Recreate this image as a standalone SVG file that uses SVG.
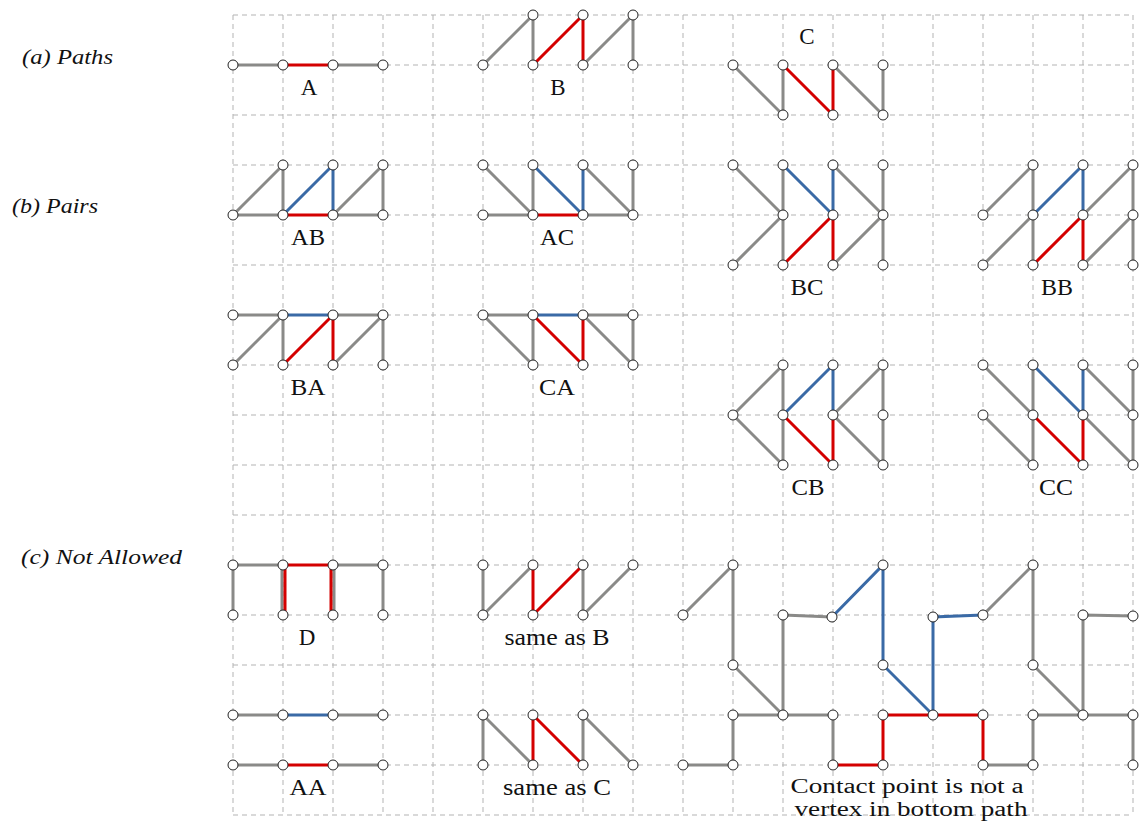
<svg xmlns="http://www.w3.org/2000/svg" width="1140" height="821" viewBox="0 0 1140 821">
<style>
.g{stroke:#b3b3b3;stroke-width:1;stroke-dasharray:5,4;fill:none}
.e{stroke:#8a8a88;stroke-width:3;stroke-linecap:round;fill:none}
.r{stroke:#d40000;stroke-width:3;stroke-linecap:round;fill:none}
.b{stroke:#3a6aa6;stroke-width:3;stroke-linecap:round;fill:none}
.n{fill:#fff;stroke:#222;stroke-width:1}
.t{font-family:"Liberation Serif","Times New Roman",serif;font-size:23px;fill:#111;text-anchor:middle}
.s{font-family:"Liberation Serif","Times New Roman",serif;font-size:20px;fill:#111;text-anchor:middle}
.h{font-family:"Liberation Serif","Times New Roman",serif;font-size:21px;font-style:italic;fill:#111}
</style>
<rect width="1140" height="821" fill="#fff"/>
<g id="grid" class="g">
<path d="M233 15V815M283 15V815M333 15V815M383 15V815M433 15V815M483 15V815M533 15V815M583 15V815M633 15V815M683 15V815M733 15V815M783 15V815M833 15V815M883 15V815M933 15V815M983 15V815M1033 15V815M1083 15V815M1133 15V815"/>
<path d="M233 15H1133M233 65H1133M233 115H1133M233 165H1133M233 215H1133M233 265H1133M233 315H1133M233 365H1133M233 415H1133M233 465H1133M233 515H1133M233 565H1133M233 615H1133M233 665H1133M233 715H1133M233 765H1133M233 815H1133"/>
</g>
<g id="connectors">
<!-- A -->
<path class="e" d="M233 65H283M333 65H383"/>
<path class="r" d="M283 65H333"/>
<!-- B -->
<path class="e" d="M483 65L533 15V65M583 65L633 15V65"/>
<path class="r" d="M533 65L583 15V65"/>
<!-- C -->
<path class="e" d="M733 65L783 115V65M833 65L883 115V65"/>
<path class="r" d="M783 65L833 115V65"/>
<!-- AB -->
<path class="e" d="M233 215L283 165V215M233 215H283M333 215H383M333 215L383 165V215"/>
<path class="r" d="M283 215H333"/>
<path class="b" d="M283 215L333 165V215"/>
<!-- AC -->
<path class="e" d="M483 165L533 215M533 165V215M483 215H533M583 215H633M583 165L633 215M633 165V215"/>
<path class="r" d="M533 215H583"/>
<path class="b" d="M533 165L583 215V165"/>
<!-- BC -->
<path class="e" d="M733 165L783 215M783 165V265M783 215L733 265M833 165L883 215M883 165V265M833 265L883 215"/>
<path class="b" d="M783 165L833 215V165"/>
<path class="r" d="M783 265L833 215V265"/>
<!-- BB -->
<path class="e" d="M983 215L1033 165V265M983 265L1033 215M1083 215L1133 165V265M1083 265L1133 215"/>
<path class="b" d="M1033 215L1083 165V215"/>
<path class="r" d="M1033 265L1083 215V265"/>
<!-- BA -->
<path class="e" d="M233 315H283M333 315H383M233 365L283 315V365M333 365L383 315V365"/>
<path class="b" d="M283 315H333"/>
<path class="r" d="M283 365L333 315V365"/>
<!-- CA -->
<path class="e" d="M483 315H533M583 315H633M483 315L533 365M533 315V365M583 315L633 365M633 315V365"/>
<path class="b" d="M533 315H583"/>
<path class="r" d="M533 315L583 365V315"/>
<!-- CB -->
<path class="e" d="M733 415L783 365V465M733 415L783 465M833 415L883 365V465M833 415L883 465"/>
<path class="b" d="M783 415L833 365V415"/>
<path class="r" d="M783 415L833 465V415"/>
<!-- CC -->
<path class="e" d="M983 365L1033 415M1033 365V465M983 415L1033 465M1083 365L1133 415M1133 365V465M1083 415L1133 465"/>
<path class="b" d="M1033 365L1083 415V365"/>
<path class="r" d="M1033 415L1083 465V415"/>
<!-- D -->
<path class="e" d="M233 565H283M333 565H383M233 565V615M282 565V615M334 565V615M383 565V615"/>
<path class="r" d="M283 565H333M285 565V615M331 565V615"/>
<!-- same as B -->
<path class="e" d="M483 565V615L533 565M583 565V615L633 565"/>
<path class="r" d="M533 565V615L583 565"/>
<!-- AA -->
<path class="e" d="M233 715H283M333 715H383M233 765H283M333 765H383"/>
<path class="b" d="M283 715H333"/>
<path class="r" d="M283 765H333"/>
<!-- same as C -->
<path class="e" d="M483 765V715L533 765M583 765V715L633 765"/>
<path class="r" d="M533 765V715L583 765"/>
<!-- contact -->
<path class="e" d="M683 615L733 565V665L783 715M783 615L832 617M783 615V715M733 715H833M733 715V765M683 765H733M833 715V765M983 765H1033V715H1133V765M983 615L1033 565V665L1083 715M1083 615V715M1083 615L1133 616"/>
<path class="b" d="M832 617L883 565V665L933 715V617L983 615"/>
<path class="r" d="M833 765H883V715H983V765"/>
</g>
<g id="nodes" class="n">
<g id="node-A"><circle cx="233" cy="65" r="5"/><circle cx="283" cy="65" r="5"/><circle cx="333" cy="65" r="5"/><circle cx="383" cy="65" r="5"/></g>
<g id="node-B"><circle cx="483" cy="65" r="5"/><circle cx="533" cy="15" r="5"/><circle cx="533" cy="65" r="5"/><circle cx="583" cy="15" r="5"/><circle cx="583" cy="65" r="5"/><circle cx="633" cy="15" r="5"/><circle cx="633" cy="65" r="5"/></g>
<g id="node-C"><circle cx="733" cy="65" r="5"/><circle cx="783" cy="65" r="5"/><circle cx="783" cy="115" r="5"/><circle cx="833" cy="65" r="5"/><circle cx="833" cy="115" r="5"/><circle cx="883" cy="65" r="5"/><circle cx="883" cy="115" r="5"/></g>
<g id="node-AB"><circle cx="233" cy="215" r="5"/><circle cx="283" cy="165" r="5"/><circle cx="283" cy="215" r="5"/><circle cx="333" cy="165" r="5"/><circle cx="333" cy="215" r="5"/><circle cx="383" cy="165" r="5"/><circle cx="383" cy="215" r="5"/></g>
<g id="node-AC"><circle cx="483" cy="165" r="5"/><circle cx="483" cy="215" r="5"/><circle cx="533" cy="165" r="5"/><circle cx="533" cy="215" r="5"/><circle cx="583" cy="165" r="5"/><circle cx="583" cy="215" r="5"/><circle cx="633" cy="165" r="5"/><circle cx="633" cy="215" r="5"/></g>
<g id="node-BC"><circle cx="733" cy="165" r="5"/><circle cx="783" cy="165" r="5"/><circle cx="833" cy="165" r="5"/><circle cx="883" cy="165" r="5"/><circle cx="783" cy="215" r="5"/><circle cx="833" cy="215" r="5"/><circle cx="883" cy="215" r="5"/><circle cx="733" cy="265" r="5"/><circle cx="783" cy="265" r="5"/><circle cx="833" cy="265" r="5"/><circle cx="883" cy="265" r="5"/></g>
<g id="node-BB"><circle cx="1033" cy="165" r="5"/><circle cx="1083" cy="165" r="5"/><circle cx="1133" cy="165" r="5"/><circle cx="983" cy="215" r="5"/><circle cx="1033" cy="215" r="5"/><circle cx="1083" cy="215" r="5"/><circle cx="1133" cy="215" r="5"/><circle cx="983" cy="265" r="5"/><circle cx="1033" cy="265" r="5"/><circle cx="1083" cy="265" r="5"/><circle cx="1133" cy="265" r="5"/></g>
<g id="node-BA"><circle cx="233" cy="315" r="5"/><circle cx="283" cy="315" r="5"/><circle cx="333" cy="315" r="5"/><circle cx="383" cy="315" r="5"/><circle cx="233" cy="365" r="5"/><circle cx="283" cy="365" r="5"/><circle cx="333" cy="365" r="5"/><circle cx="383" cy="365" r="5"/></g>
<g id="node-CA"><circle cx="483" cy="315" r="5"/><circle cx="533" cy="315" r="5"/><circle cx="583" cy="315" r="5"/><circle cx="633" cy="315" r="5"/><circle cx="533" cy="365" r="5"/><circle cx="583" cy="365" r="5"/><circle cx="633" cy="365" r="5"/></g>
<g id="node-CB"><circle cx="783" cy="365" r="5"/><circle cx="833" cy="365" r="5"/><circle cx="883" cy="365" r="5"/><circle cx="733" cy="415" r="5"/><circle cx="783" cy="415" r="5"/><circle cx="833" cy="415" r="5"/><circle cx="883" cy="415" r="5"/><circle cx="783" cy="465" r="5"/><circle cx="833" cy="465" r="5"/><circle cx="883" cy="465" r="5"/></g>
<g id="node-CC"><circle cx="983" cy="365" r="5"/><circle cx="1033" cy="365" r="5"/><circle cx="1083" cy="365" r="5"/><circle cx="1133" cy="365" r="5"/><circle cx="983" cy="415" r="5"/><circle cx="1033" cy="415" r="5"/><circle cx="1083" cy="415" r="5"/><circle cx="1133" cy="415" r="5"/><circle cx="1033" cy="465" r="5"/><circle cx="1083" cy="465" r="5"/><circle cx="1133" cy="465" r="5"/></g>
<g id="node-D"><circle cx="233" cy="565" r="5"/><circle cx="283" cy="565" r="5"/><circle cx="333" cy="565" r="5"/><circle cx="383" cy="565" r="5"/><circle cx="233" cy="615" r="5"/><circle cx="283" cy="615" r="5"/><circle cx="333" cy="615" r="5"/><circle cx="383" cy="615" r="5"/></g>
<g id="node-sameB"><circle cx="483" cy="565" r="5"/><circle cx="533" cy="565" r="5"/><circle cx="583" cy="565" r="5"/><circle cx="633" cy="565" r="5"/><circle cx="483" cy="615" r="5"/><circle cx="533" cy="615" r="5"/><circle cx="583" cy="615" r="5"/></g>
<g id="node-AA"><circle cx="233" cy="715" r="5"/><circle cx="283" cy="715" r="5"/><circle cx="333" cy="715" r="5"/><circle cx="383" cy="715" r="5"/><circle cx="233" cy="765" r="5"/><circle cx="283" cy="765" r="5"/><circle cx="333" cy="765" r="5"/><circle cx="383" cy="765" r="5"/></g>
<g id="node-sameC"><circle cx="483" cy="715" r="5"/><circle cx="533" cy="715" r="5"/><circle cx="583" cy="715" r="5"/><circle cx="483" cy="765" r="5"/><circle cx="533" cy="765" r="5"/><circle cx="583" cy="765" r="5"/><circle cx="633" cy="765" r="5"/></g>
<g id="node-contact"><circle cx="683" cy="615" r="5"/><circle cx="733" cy="565" r="5"/><circle cx="733" cy="665" r="5"/><circle cx="783" cy="615" r="5"/><circle cx="832" cy="617" r="5"/><circle cx="883" cy="565" r="5"/><circle cx="883" cy="665" r="5"/><circle cx="933" cy="617" r="5"/><circle cx="983" cy="615" r="5"/><circle cx="1033" cy="565" r="5"/><circle cx="1033" cy="665" r="5"/><circle cx="1083" cy="615" r="5"/><circle cx="1133" cy="616" r="5"/><circle cx="733" cy="715" r="5"/><circle cx="783" cy="715" r="5"/><circle cx="833" cy="715" r="5"/><circle cx="883" cy="715" r="5"/><circle cx="933" cy="715" r="5"/><circle cx="983" cy="715" r="5"/><circle cx="1033" cy="715" r="5"/><circle cx="1083" cy="715" r="5"/><circle cx="1133" cy="715" r="5"/><circle cx="683" cy="765" r="5"/><circle cx="733" cy="765" r="5"/><circle cx="833" cy="765" r="5"/><circle cx="883" cy="765" r="5"/><circle cx="983" cy="765" r="5"/><circle cx="1033" cy="765" r="5"/><circle cx="1133" cy="765" r="5"/></g>
</g>
<g id="labels">
<text class="h" x="22" y="64" textLength="91" lengthAdjust="spacingAndGlyphs">(a) Paths</text>
<text class="h" x="12" y="213" textLength="86" lengthAdjust="spacingAndGlyphs">(b) Pairs</text>
<text class="h" x="21" y="564" textLength="161" lengthAdjust="spacingAndGlyphs">(c) Not Allowed</text>
<text class="t" x="309" y="95">A</text>
<text class="t" x="558" y="95">B</text>
<text class="t" x="807" y="44">C</text>
<text class="t" x="308" y="245" textLength="34" lengthAdjust="spacingAndGlyphs">AB</text>
<text class="t" x="557" y="245" textLength="34" lengthAdjust="spacingAndGlyphs">AC</text>
<text class="t" x="807" y="295" textLength="33" lengthAdjust="spacingAndGlyphs">BC</text>
<text class="t" x="1057" y="295" textLength="32" lengthAdjust="spacingAndGlyphs">BB</text>
<text class="t" x="308" y="395" textLength="35" lengthAdjust="spacingAndGlyphs">BA</text>
<text class="t" x="557" y="395" textLength="36" lengthAdjust="spacingAndGlyphs">CA</text>
<text class="t" x="808" y="495" textLength="33" lengthAdjust="spacingAndGlyphs">CB</text>
<text class="t" x="1056" y="495" textLength="34" lengthAdjust="spacingAndGlyphs">CC</text>
<text class="t" x="307" y="645">D</text>
<text class="t" x="557" y="645" textLength="105" lengthAdjust="spacingAndGlyphs">same as B</text>
<text class="t" x="308" y="795" textLength="37" lengthAdjust="spacingAndGlyphs">AA</text>
<text class="t" x="557" y="795" textLength="108" lengthAdjust="spacingAndGlyphs">same as C</text>
<text class="s" x="907" y="793" textLength="233" lengthAdjust="spacingAndGlyphs">Contact point is not a</text>
<text class="s" x="911" y="816" textLength="233" lengthAdjust="spacingAndGlyphs">vertex in bottom path</text>
</g>
</svg>
